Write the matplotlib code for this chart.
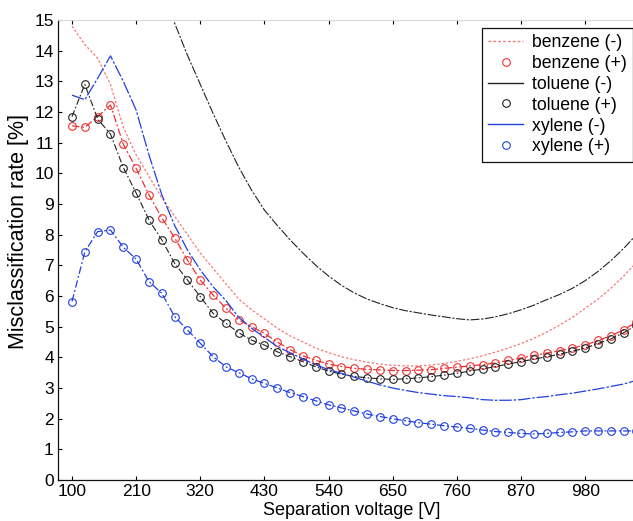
import numpy as np
import matplotlib
matplotlib.use("Agg")
import matplotlib.pyplot as plt
from matplotlib.lines import Line2D

plt.rcParams['font.family'] = ['Liberation Sans', 'DejaVu Sans']

# Separation voltage grid (22 V steps)
voltage = [100 + 22 * k for k in range(45)]

benzene_minus = [14.8, 14.2, 13.75, 12.9, 11.5, 10.6, 9.9, 9.2, 8.6, 8.0,
                 7.4, 6.9, 6.4, 5.9, 5.55, 5.25, 4.95, 4.7, 4.5, 4.3,
                 4.15, 4.02, 3.92, 3.84, 3.78, 3.74, 3.72, 3.72, 3.75, 3.8,
                 3.87, 3.95, 4.05, 4.17, 4.3, 4.45, 4.62, 4.82, 5.05, 5.3,
                 5.6, 5.9, 6.25, 6.65, 7.1]
benzene_plus = [11.55, 11.5, 11.85, 12.23, 10.95, 10.16, 9.3, 8.55, 7.9, 7.17,
                6.52, 6.03, 5.6, 5.22, 5.0, 4.78, 4.5, 4.25, 4.05, 3.9,
                3.78, 3.7, 3.64, 3.61, 3.59, 3.57, 3.57, 3.58, 3.6, 3.64,
                3.68, 3.72, 3.76, 3.82, 3.9, 3.98, 4.06, 4.14, 4.22, 4.3,
                4.4, 4.55, 4.7, 4.9, 5.15]
toluene_minus_v = [100 + 22 * k for k in range(7, 45)]
toluene_minus = [16.0, 14.9, 13.85, 12.9, 11.95, 11.05, 10.2, 9.45, 8.8, 8.3,
                 7.83, 7.4, 7.0, 6.65, 6.35, 6.1, 5.9, 5.75, 5.62, 5.52,
                 5.45, 5.38, 5.32, 5.26, 5.22, 5.25, 5.32, 5.42, 5.55, 5.7,
                 5.88, 6.05, 6.25, 6.5, 6.8, 7.15, 7.55, 8.0]
toluene_plus = [11.85, 12.9, 11.77, 11.28, 10.19, 9.36, 8.48, 7.83, 7.07, 6.52,
                5.98, 5.43, 5.11, 4.8, 4.56, 4.4, 4.18, 4.02, 3.86, 3.69,
                3.55, 3.45, 3.38, 3.33, 3.3, 3.28, 3.3, 3.33, 3.37, 3.42,
                3.48, 3.55, 3.62, 3.7, 3.78, 3.86, 3.94, 4.02, 4.1, 4.2,
                4.3, 4.45, 4.6, 4.8, 5.05]
xylene_minus = [12.55, 12.4, 13.1, 13.83, 13.0, 12.06, 10.6, 9.3, 8.3, 7.5,
                6.85, 6.3, 5.85, 5.3, 4.95, 4.65, 4.35, 4.15, 3.95, 3.75,
                3.6, 3.48, 3.35, 3.22, 3.1, 3.0, 2.92, 2.85, 2.8, 2.75,
                2.72, 2.68, 2.62, 2.6, 2.6, 2.62, 2.68, 2.72, 2.78, 2.83,
                2.9, 2.97, 3.05, 3.13, 3.25]
xylene_plus = [5.82, 7.44, 8.10, 8.15, 7.59, 7.2, 6.47, 6.09, 5.33, 4.89,
               4.46, 4.02, 3.69, 3.50, 3.3, 3.15, 3.0, 2.85, 2.72, 2.58,
               2.45, 2.35, 2.25, 2.15, 2.07, 2.0, 1.93, 1.87, 1.82, 1.77,
               1.73, 1.68, 1.63, 1.58, 1.55, 1.52, 1.5, 1.52, 1.55, 1.57,
               1.6, 1.6, 1.6, 1.6, 1.6]

xticks = [100, 210, 320, 430, 540, 650, 760, 870, 980]
yticks = list(range(0, 16))

RED = '#f03030'
LRED = '#f47a7a'
BLACK = '#222222'
BLUE = '#2040e0'

fig = plt.figure(figsize=(6.33, 5.21), dpi=100)
ax = fig.add_axes([58 / 633, 41 / 521, 575 / 633, 460 / 521])

mk = dict(marker='o', markersize=5.5, markerfacecolor='none', markeredgewidth=0.8)
dd = (0, (6, 2, 1.5, 2))

ax.plot(voltage, benzene_minus, color=LRED, lw=0.9, linestyle=(0, (2, 1.5)))
ax.plot(voltage, benzene_plus, color=RED, lw=0.9, linestyle=dd, **mk)
ax.plot(toluene_minus_v, toluene_minus, color=BLACK, lw=0.8, linestyle=(0, (8, 1.5, 2, 1.5)))
ax.plot(voltage, toluene_plus, color=BLACK, lw=0.8, linestyle=dd, **mk)
ax.plot(voltage, xylene_minus, color=BLUE, lw=0.9, linestyle=(0, (10, 1.5, 2, 1.5)))
ax.plot(voltage, xylene_plus, color=BLUE, lw=0.9, linestyle=dd, **mk)

ax.set_xlim(76, 1062)
ax.set_ylim(0, 15)
ax.set_xticks(xticks)
ax.set_yticks(yticks)
ax.tick_params(direction='in', length=3, width=0.8, labelsize=12.5, top=True,
               right=False, pad=3)
for s in ['left', 'bottom']:
    ax.spines[s].set_color('#111111')
    ax.spines[s].set_linewidth(0.9)
ax.spines['top'].set_color('#d8d8d8')
ax.spines['right'].set_visible(False)

ax.set_xlabel('Separation voltage [V]', fontsize=13)
ax.set_ylabel('Misclassification rate [%]', fontsize=15.5)
ax.xaxis.set_label_coords(0.51, -0.048)
ax.yaxis.set_label_coords(-0.05, 0.541)

handles = [
    Line2D([], [], color=LRED, lw=1.0, linestyle=(0, (2, 1.5))),
    Line2D([], [], color=RED, linestyle='none', **mk),
    Line2D([], [], color=BLACK, lw=1.0),
    Line2D([], [], color=BLACK, linestyle='none', **mk),
    Line2D([], [], color=BLUE, lw=1.0),
    Line2D([], [], color=BLUE, linestyle='none', **mk),
]
labels = ['benzene (-)', 'benzene (+)', 'toluene (-)', 'toluene (+)',
          'xylene (-)', 'xylene (+)']
leg = ax.legend(handles, labels, loc='upper left', bbox_to_anchor=(0.737, 0.983),
                fontsize=12.7, frameon=True, fancybox=False, framealpha=1,
                edgecolor='#111111', handlelength=2.0, handletextpad=0.5,
                labelspacing=0.22, borderpad=0.35, borderaxespad=0)
leg.get_frame().set_linewidth(0.9)

fig.savefig('out.png', dpi=100)
